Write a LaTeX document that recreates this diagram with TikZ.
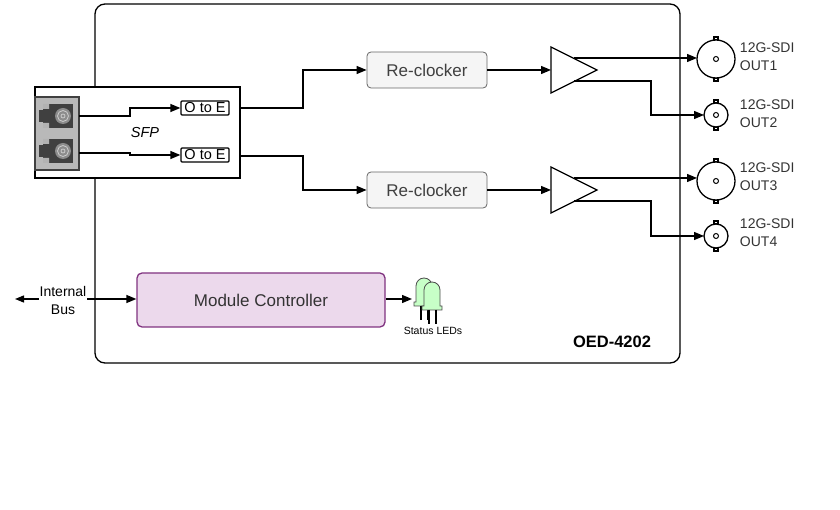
\documentclass[tikz,border=0pt]{standalone}
\usepackage{fontspec}
\setmainfont{Liberation Sans}
\usetikzlibrary{positioning,arrows.meta}
\tikzset{
    every picture/.style={line width=1.3pt},
    wire/.style={-{Triangle[length=10pt,width=8pt]}},
    block/.style={draw=gray!80!black, line width=0.8pt, fill=gray!8, rounded corners=4pt, minimum width=120pt, minimum height=36pt, font=\fontsize{17}{18}\selectfont, text=black!75},
    oe/.style={draw, rounded corners=1pt, inner sep=1pt, minimum width=48pt, minimum height=14pt, font=\fontsize{14.5}{14}\selectfont},
    outlabel/.style={anchor=west, align=left, font=\fontsize{14}{18}\selectfont, text=black!80},
    bnc/.pic={
        \draw[fill=white] (-2,-#1-3) rectangle (2,-#1);
        \draw[fill=white] (-2,#1) rectangle (2,#1+3);
        \draw[fill=white] (0,0) circle (#1);
        \draw[line width=1pt] (0,0) circle (2.5);
    },
    led/.pic={
        \draw[fill=green!22, draw=black!70, line width=0.8pt] (-8,12) -- (-8,-4) arc (180:360:8) -- (8,12) -- (10,12) -- (10,16) -- (-10,16) -- (-10,12) -- cycle;
        \draw (-3,16) -- (-3,30) (4,16) -- (4,30);
    },
    lc/.pic={
        \fill[black!75] (-16,-12) rectangle (14,12);
        \fill[black!75] (-20,-6) rectangle (-16,6);
        \fill[gray!60] (-16,-12) rectangle (-10,-7) (-16,7) rectangle (-10,12);
        \fill[black!45] (4,0) circle (8);
        \draw[white!80!black, line width=0.8pt] (4,0) circle (5.5) (4,0) circle (2);
    }
}
\begin{document}
\begin{tikzpicture}[x=1pt,y=-1pt]
\useasboundingbox (0,0) rectangle (840,510);
% card outline
\draw[rounded corners=10pt] (95,4) rectangle (680,363);
\node[font=\bfseries\fontsize{16.5}{18}\selectfont, anchor=east] (model) at (655,342) {OED-4202};
% SFP cage
\draw[fill=white] (35,87) rectangle (240,178);
\draw[fill=gray!55, draw=black!75, line width=2pt] (35,97) rectangle (79,170);
\pic at (59,116) {lc};
\pic at (59,151) {lc};
\coordinate (fib1) at (79,116);
\coordinate (fib2) at (79,153);
\node[oe] (oe1) at (205,108) {O to E};
\node[oe] (oe2) at (205,155) {O to E};
\node[font=\itshape\fontsize{14.5}{14}\selectfont] (sfp) at (145,133) {SFP};
\draw[wire] (fib1) -- (130,116) -- (130,108) -- (oe1);
\draw[wire] (fib2) -- (130,153) -- (130,155) -- (oe2);
% re-clockers
\node[block] (rc1) at (427,70) {Re-clocker};
\node[block] (rc2) at (427,190) {Re-clocker};
\draw[wire] (240,108) -- (303,108) -- (303,70) -- (rc1);
\draw[wire] (240,156) -- (303,156) -- (303,190) -- (rc2);
% drivers
\draw (551,47) -- (597,70) -- (551,93) -- cycle;
\draw (551,167) -- (597,190) -- (551,213) -- cycle;
\draw[wire] (rc1) -- (551,70);
\draw[wire] (rc2) -- (551,190);
% outputs
\pic at (716,59) {bnc=19};
\pic at (716,115) {bnc=12};
\pic at (716,181) {bnc=19};
\pic at (716,236) {bnc=12};
\draw[wire] (574,58) -- (697,58);
\draw[wire] (574,81) -- (651,81) -- (651,115) -- (704,115);
\draw[wire] (574,178) -- (697,178);
\draw[wire] (574,201) -- (651,201) -- (651,236) -- (704,236);
\foreach \i/\y in {1/57,2/114,3/177,4/233}
    \node[outlabel] (out\i) at (736,\y) {12G-SDI\\OUT\i};
% controller
\node[draw=violet!60!gray, fill=violet!15, rounded corners=5pt, minimum width=248pt, minimum height=54pt, font=\fontsize{17}{18}\selectfont, text=black!80] (mc) at (261,300) {Module Controller};
\coordinate (bus) at (15,299);
\draw[{Triangle[length=9pt,width=7pt]}-{Triangle[length=10pt,width=8pt]}] (bus) -- (mc.west |- bus);
\node[fill=white, inner sep=1pt, align=center, font=\fontsize{14}{18}\selectfont] (busl) at (63,300) {Internal\\Bus};
\pic at (424,290) {led};
\pic at (432,294) {led};
\draw[wire] (mc.east |- bus) -- (412,299);
\node[font=\fontsize{10.5}{11}\selectfont] (ledl) at (433,331) {Status LEDs};
\end{tikzpicture}
\end{document}
